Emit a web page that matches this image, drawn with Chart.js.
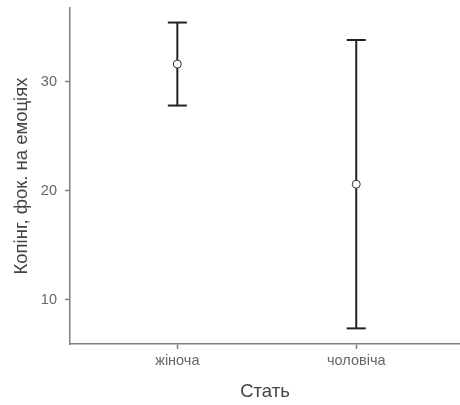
<!DOCTYPE html>
<html>
<head>
<meta charset="utf-8">
<script src="https://cdn.jsdelivr.net/npm/chart.js@4/dist/chart.umd.min.js"></script>
<style>
  body { margin: 0; background: #fff; }
  canvas { display: block; }
</style>
</head>
<body>
<canvas id="chart" width="460" height="405"></canvas>
<script>
const groups = ['жіноча', 'чоловіча'];
const means = [31.6, 20.6];
const lower = [27.8, 7.4];
const upper = [35.4, 33.8];
const yTicks = [10, 20, 30];

const fontFamily = '"Liberation Sans", Arial, sans-serif';
const axisColor = '#808080';
const barColor = '#222';

// one vertical whisker per group
const whiskers = groups.map((g, i) => ({
    type: 'scatter',
    showLine: true,
    data: [{ x: i + 1, y: lower[i] }, { x: i + 1, y: upper[i] }],
    borderColor: barColor,
    borderWidth: 2,
    pointRadius: 0,
    order: 3
}));

const caps = {
    type: 'scatter',
    data: groups.flatMap((g, i) => [{ x: i + 1, y: lower[i] }, { x: i + 1, y: upper[i] }]),
    pointStyle: 'line',
    pointRadius: 9.5,
    borderColor: barColor,
    borderWidth: 2,
    order: 2
};

const meanPoints = {
    type: 'scatter',
    data: groups.map((g, i) => ({ x: i + 1, y: means[i] })),
    pointStyle: 'circle',
    pointRadius: 4,
    backgroundColor: '#fff',
    borderColor: '#333',
    borderWidth: 1,
    order: 1
};

new Chart(document.getElementById('chart'), {
    type: 'scatter',
    data: { datasets: [...whiskers, caps, meanPoints] },
    options: {
        responsive: false,
        animation: false,
        layout: { autoPadding: false, padding: { top: 8, right: 0, bottom: 0, left: 0 } },
        plugins: { legend: { display: false }, tooltip: { enabled: false } },
        scales: {
            x: {
                type: 'linear',
                min: 0.4,
                max: 2.58,
                afterBuildTicks: scale => { scale.ticks = groups.map((g, i) => ({ value: i + 1 })); },
                afterFit: scale => {
                    scale.height = 61;
                    scale.paddingLeft = 0;
                    scale.paddingRight = 0;
                },
                ticks: {
                    callback: v => groups[v - 1],
                    color: '#666',
                    font: { family: fontFamily, size: 14.5 },
                    padding: 3
                },
                grid: { drawOnChartArea: false, tickLength: 5, color: axisColor, tickWidth: 1.5 },
                border: { color: axisColor, width: 1.5 },
                title: {
                    display: true,
                    text: 'Стать',
                    color: '#444',
                    font: { family: fontFamily, size: 18.5 },
                    padding: { top: 0, bottom: 2 }
                }
            },
            y: {
                min: 5.97,
                max: 36.73,
                afterBuildTicks: scale => { scale.ticks = yTicks.map(v => ({ value: v })); },
                afterFit: scale => {
                    scale.width = 70;
                    scale.paddingTop = 0;
                    scale.paddingBottom = 0;
                },
                ticks: {
                    color: '#666',
                    font: { family: fontFamily, size: 14.5 },
                    padding: 8
                },
                grid: { drawOnChartArea: false, tickLength: 5, color: axisColor, tickWidth: 1.5 },
                border: { color: axisColor, width: 1.5 },
                title: {
                    display: true,
                    text: 'Копінг, фок. на емоціях',
                    color: '#444',
                    font: { family: fontFamily, size: 18.5 },
                    padding: { top: 11, bottom: 0 }
                }
            }
        }
    }
});
</script>
</body>
</html>
